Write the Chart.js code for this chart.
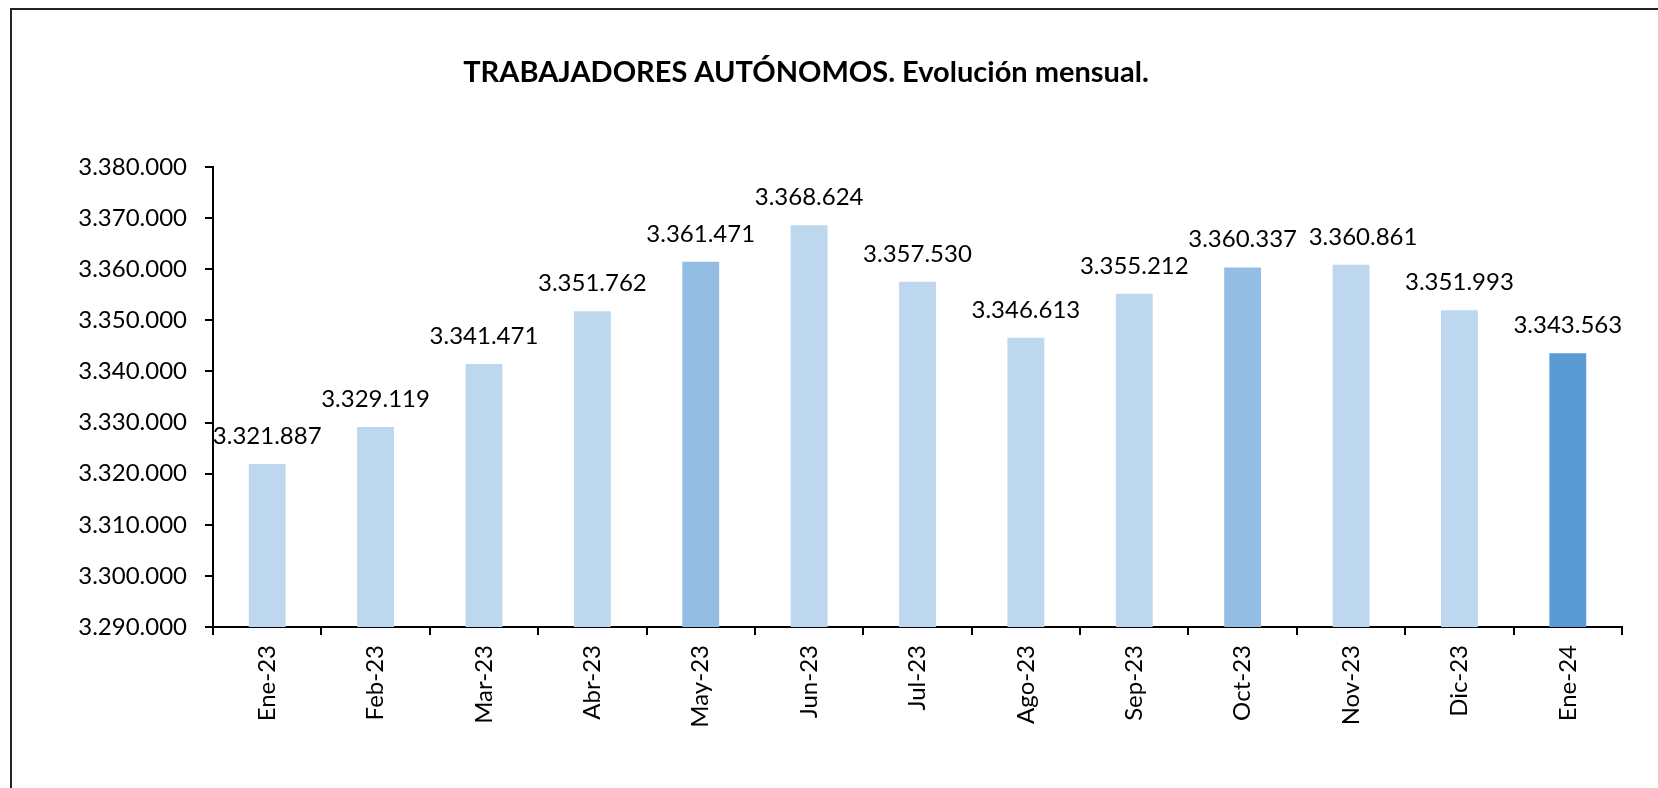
<!DOCTYPE html>
<html>
<head>
<meta charset="utf-8">
<script src="https://cdn.jsdelivr.net/npm/chart.js@4.4.0/dist/chart.umd.min.js"></script>
<style>
  html, body { margin: 0; padding: 0; background: #fff; }
  #wrap { position: relative; width: 1658px; height: 788px; }
</style>
</head>
<body>
<div id="wrap"><canvas id="myChart" width="1658" height="788"></canvas></div>
<script>
// datos del gráfico
var meses = ["Ene-23", "Feb-23", "Mar-23", "Abr-23", "May-23", "Jun-23", "Jul-23",
             "Ago-23", "Sep-23", "Oct-23", "Nov-23", "Dic-23", "Ene-24"];
var autonomos = [3321887, 3329119, 3341471, 3351762, 3361471, 3368624, 3357530,
                 3346613, 3355212, 3360337, 3360861, 3351993, 3343563];
var colores = ["#BDD7EE", "#BDD7EE", "#BDD7EE", "#BDD7EE", "#94BDE3", "#BDD7EE", "#BDD7EE",
               "#BDD7EE", "#BDD7EE", "#94BDE3", "#BDD7EE", "#BDD7EE", "#5B9BD5"];
var titulo = "TRABAJADORES AUTÓNOMOS. Evolución mensual.";
var yMin = 3290000, yMax = 3380000, yPaso = 10000;

function fmt(v) {
  return String(v).replace(/\B(?=(\d{3})+(?!\d))/g, ".");
}

var FUENTE = "Lato, 'Open Sans', sans-serif";

// marco, título y etiquetas de valor
var extras = {
  id: "extras",
  beforeDraw: function (chart) {
    var c = chart.ctx;
    c.save();
    c.fillStyle = "#fff";
    c.fillRect(0, 0, chart.width, chart.height);
    c.strokeStyle = "#222";
    c.lineWidth = 2;
    c.beginPath();
    c.moveTo(11, 788);
    c.lineTo(11, 9);
    c.lineTo(1658, 9);
    c.stroke();
    c.fillStyle = "#000";
    c.font = "bold 29px " + FUENTE;
    c.textAlign = "center";
    c.textBaseline = "alphabetic";
    c.fillText(titulo, 806, 82);
    c.restore();
  },
  afterDatasetsDraw: function (chart) {
    var c = chart.ctx;
    var meta = chart.getDatasetMeta(0);
    c.save();
    c.fillStyle = "#000";
    c.font = "24px " + FUENTE;
    c.textAlign = "center";
    c.textBaseline = "alphabetic";
    meta.data.forEach(function (bar, i) {
      // la etiqueta de Nov-23 va un poco a la derecha para no pisar la de Oct-23
      var dx = (i === 10) ? 12 : 0;
      c.fillText(fmt(autonomos[i]), bar.x + dx, bar.y - 20);
    });
    c.restore();
  }
};

var ctx = document.getElementById("myChart");
var grafico = new Chart(ctx, {
  type: "bar",
  data: {
    labels: meses,
    datasets: [{
      label: "Autónomos",
      data: autonomos,
      backgroundColor: colores,
      barPercentage: 0.34,
      categoryPercentage: 1.0
    }]
  },
  options: {
    responsive: false,
    animation: false,
    devicePixelRatio: 1,
    layout: { padding: { left: 0, top: 167, right: 36, bottom: 0 } },
    plugins: {
      legend: { display: false },
      title: { display: false },
      tooltip: { enabled: false }
    },
    scales: {
      x: {
        offset: true,
        grid: { offset: true, drawOnChartArea: false, drawTicks: true, tickLength: 8, color: "#000", lineWidth: 2 },
        border: { color: "#000", width: 2 },
        ticks: {
          color: "#000",
          font: { family: FUENTE, size: 24 },
          maxRotation: 90, minRotation: 90,
          padding: 10,
          autoSkip: false
        },
        afterFit: function (s) { s.height = 788 - 627; }
      },
      y: {
        min: yMin, max: yMax,
        grid: { drawOnChartArea: false, drawTicks: true, tickLength: 8, color: "#000", lineWidth: 2 },
        border: { color: "#000", width: 2 },
        ticks: {
          stepSize: yPaso,
          color: "#000",
          font: { family: FUENTE, size: 24 },
          padding: 18,
          callback: function (v) { return fmt(v); }
        },
        afterFit: function (s) { s.width = 213; }
      }
    }
  },
  plugins: [extras]
});
</script>
</body>
</html>
